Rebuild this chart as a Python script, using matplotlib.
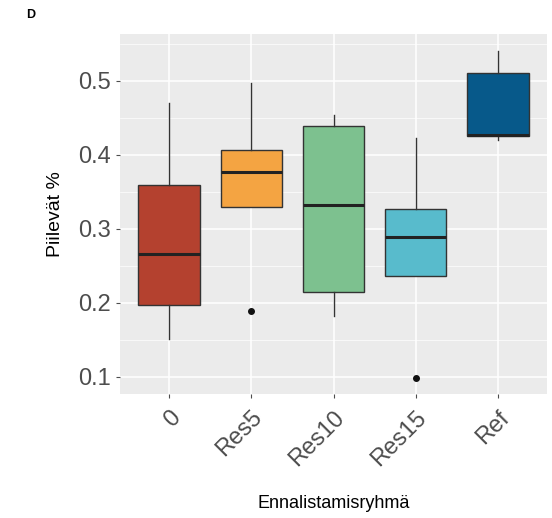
import matplotlib
matplotlib.use("Agg")
import matplotlib.pyplot as plt
import numpy as np

plt.rcParams["font.family"] = ["Liberation Sans", "DejaVu Sans"]

groups = ["0", "Res5", "Res10", "Res15", "Ref"]
whislo = [0.151, 0.330, 0.182, 0.236, 0.420]
q1 = [0.197, 0.330, 0.215, 0.236, 0.425]
med = [0.266, 0.377, 0.332, 0.289, 0.427]
q3 = [0.359, 0.407, 0.439, 0.327, 0.511]
whishi = [0.470, 0.497, 0.454, 0.423, 0.541]
outliers = [[], [0.189], [], [0.099], []]
colors = ["#B4412F", "#F4A442", "#7DC18F", "#58BBCC", "#07598A"]

fig = plt.figure(figsize=(5.52, 5.18), dpi=100)
ax = fig.add_axes([120/552, 1-394/518, 427/552, 360/518])
ax.set_facecolor("#EBEBEB")

stats = []
for i, g in enumerate(groups):
    stats.append(dict(label=g, whislo=whislo[i], q1=q1[i], med=med[i],
                      q3=q3[i], whishi=whishi[i], fliers=outliers[i]))

pos = np.arange(1, len(groups) + 1)
bp = ax.bxp(stats, positions=pos, widths=0.75, patch_artist=True,
            showcaps=False, zorder=3,
            boxprops=dict(edgecolor="#333333", linewidth=1.0),
            medianprops=dict(color="#222222", linewidth=2.2),
            whiskerprops=dict(color="#333333", linewidth=1.0),
            flierprops=dict(marker="o", markerfacecolor="#111111",
                            markeredgecolor="#111111", markersize=4))
for patch, c in zip(bp["boxes"], colors):
    patch.set_facecolor(c)

ax.set_xlim(0.4, 5.6)
ax.set_ylim(0.077, 0.5635)
ax.set_yticks([0.1, 0.2, 0.3, 0.4, 0.5])
ax.set_yticks([0.15, 0.25, 0.35, 0.45, 0.55], minor=True)
ax.set_xticks(pos)
ax.set_xticklabels(groups, rotation=45, ha="right", va="top",
                   rotation_mode="anchor")
ax.grid(which="major", color="white", linewidth=1.1, zorder=0)
ax.grid(which="minor", axis="y", color="white", linewidth=0.5, zorder=0)
ax.set_axisbelow(True)
for s in ax.spines.values():
    s.set_visible(False)
ax.tick_params(axis="both", which="major", labelsize=17, colors="#4D4D4D",
               length=3, width=0.8, labelcolor="#4D4D4D")
ax.tick_params(axis="x", pad=6)
ax.tick_params(which="minor", length=0)

ax.set_ylabel("Piilevät %", fontsize=14, color="black", labelpad=10)
ax.set_xlabel("Ennalistamisryhmä", fontsize=13, color="black", labelpad=18)
fig.text(26/552, 1-15/518, "D", fontsize=9, fontweight="bold", va="center")

fig.savefig("out.png", dpi=100)
